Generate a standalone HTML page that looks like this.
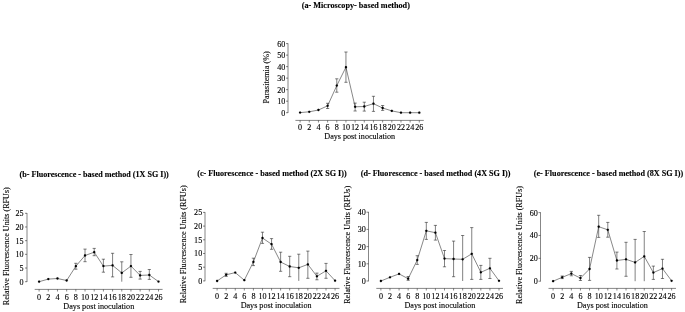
<!DOCTYPE html>
<html lang="en"><head><meta charset="utf-8"><title>Figure</title>
<style>
html,body{margin:0;padding:0;background:#fff;}
body{width:685px;height:312px;overflow:hidden;font-family:"Liberation Serif",serif;}
svg{display:block;}
svg text{font-family:"Liberation Serif",serif;}
</style></head><body>
<svg width="685" height="312" viewBox="0 0 685 312" font-family="'Liberation Serif', serif" fill="#000" stroke="#000" stroke-width="0.12">
<g id="chart-a"><path d="M288 43.3V113" stroke="#222" stroke-width="0.55" fill="none"/>
<text x="285.3" y="115.65" font-size="8.1" text-anchor="end">0</text>
<text x="285.3" y="104.13" font-size="8.1" text-anchor="end">10</text>
<text x="285.3" y="92.62" font-size="8.1" text-anchor="end">20</text>
<text x="285.3" y="81.1" font-size="8.1" text-anchor="end">30</text>
<text x="285.3" y="69.58" font-size="8.1" text-anchor="end">40</text>
<text x="285.3" y="58.07" font-size="8.1" text-anchor="end">50</text>
<text x="285.3" y="46.55" font-size="8.1" text-anchor="end">60</text>
<path d="M286 112.7H288M286 101.18H288M286 89.67H288M286 78.15H288M286 66.63H288M286 55.12H288M286 43.6H288" stroke="#222" stroke-width="0.55" fill="none"/>
<text x="300.1" y="129.9" font-size="8.1" text-anchor="middle">0</text>
<text x="309.27" y="129.9" font-size="8.1" text-anchor="middle">2</text>
<text x="318.44" y="129.9" font-size="8.1" text-anchor="middle">4</text>
<text x="327.61" y="129.9" font-size="8.1" text-anchor="middle">6</text>
<text x="336.78" y="129.9" font-size="8.1" text-anchor="middle">8</text>
<text x="345.95" y="129.9" font-size="8.1" text-anchor="middle">10</text>
<text x="355.12" y="129.9" font-size="8.1" text-anchor="middle">12</text>
<text x="364.29" y="129.9" font-size="8.1" text-anchor="middle">14</text>
<text x="373.46" y="129.9" font-size="8.1" text-anchor="middle">16</text>
<text x="382.63" y="129.9" font-size="8.1" text-anchor="middle">18</text>
<text x="391.8" y="129.9" font-size="8.1" text-anchor="middle">20</text>
<text x="400.97" y="129.9" font-size="8.1" text-anchor="middle">22</text>
<text x="410.14" y="129.9" font-size="8.1" text-anchor="middle">24</text>
<text x="419.31" y="129.9" font-size="8.1" text-anchor="middle">26</text>
<path d="M295.4 120.4H423.8M300.1 120.4v2.1M309.27 120.4v2.1M318.44 120.4v2.1M327.61 120.4v2.1M336.78 120.4v2.1M345.95 120.4v2.1M355.12 120.4v2.1M364.29 120.4v2.1M373.46 120.4v2.1M382.63 120.4v2.1M391.8 120.4v2.1M400.97 120.4v2.1M410.14 120.4v2.1M419.31 120.4v2.1" stroke="#222" stroke-width="0.55" fill="none"/>
<text x="359.71" y="138.9" font-size="8.15" text-anchor="middle">Days post inoculation</text>
<text transform="translate(268.9 77.4) rotate(-90)" font-size="8.15" text-anchor="middle">Parasitemia (%)</text>
<text x="301.8" y="7.7" font-size="8.1" font-weight="bold" textLength="108.1" lengthAdjust="spacingAndGlyphs">(a- Microscopy- based method)</text>
<path d="M326.01 103.3h3.2M327.61 103.3V108.5M326.01 108.5h3.2M335.18 78.8h3.2M336.78 78.8V92.2M335.18 92.2h3.2M344.35 52h3.2M345.95 52V82.3M344.35 82.3h3.2M353.52 103.1h3.2M355.12 103.1V111M353.52 111h3.2M362.69 102.2h3.2M364.29 102.2V111.1M362.69 111.1h3.2M371.86 96.3h3.2M373.46 96.3V111.4M371.86 111.4h3.2M381.03 105.5h3.2M382.63 105.5V110.4M381.03 110.4h3.2" stroke="#1a1a1a" stroke-width="0.55" fill="none"/>
<path d="M300.1 112.6L309.27 111.8L318.44 110L327.61 105.8L336.78 85.6L345.95 67.2L355.12 106.8L364.29 106.5L373.46 103.7L382.63 108L391.8 110.9L400.97 112.7L410.14 112.7L419.31 112.7" stroke="#111" stroke-width="0.5" fill="none"/>
<circle cx="300.1" cy="112.6" r="1.15"/>
<circle cx="309.27" cy="111.8" r="1.15"/>
<circle cx="318.44" cy="110" r="1.15"/>
<circle cx="327.61" cy="105.8" r="1.15"/>
<circle cx="336.78" cy="85.6" r="1.15"/>
<circle cx="345.95" cy="67.2" r="1.15"/>
<circle cx="355.12" cy="106.8" r="1.15"/>
<circle cx="364.29" cy="106.5" r="1.15"/>
<circle cx="373.46" cy="103.7" r="1.15"/>
<circle cx="382.63" cy="108" r="1.15"/>
<circle cx="391.8" cy="110.9" r="1.15"/>
<circle cx="400.97" cy="112.7" r="1.15"/>
<circle cx="410.14" cy="112.7" r="1.15"/>
<circle cx="419.31" cy="112.7" r="1.15"/></g>
<g id="chart-b"><path d="M27 213V282" stroke="#222" stroke-width="0.55" fill="none"/>
<text x="23.6" y="284.65" font-size="8.1" text-anchor="end">0</text>
<text x="23.6" y="270.97" font-size="8.1" text-anchor="end">5</text>
<text x="23.6" y="257.29" font-size="8.1" text-anchor="end">10</text>
<text x="23.6" y="243.61" font-size="8.1" text-anchor="end">15</text>
<text x="23.6" y="229.93" font-size="8.1" text-anchor="end">20</text>
<text x="23.6" y="216.25" font-size="8.1" text-anchor="end">25</text>
<path d="M25 281.7H27M25 268.02H27M25 254.34H27M25 240.66H27M25 226.98H27M25 213.3H27" stroke="#222" stroke-width="0.55" fill="none"/>
<text x="39.1" y="299.7" font-size="8.1" text-anchor="middle">0</text>
<text x="48.29" y="299.7" font-size="8.1" text-anchor="middle">2</text>
<text x="57.47" y="299.7" font-size="8.1" text-anchor="middle">4</text>
<text x="66.66" y="299.7" font-size="8.1" text-anchor="middle">6</text>
<text x="75.84" y="299.7" font-size="8.1" text-anchor="middle">8</text>
<text x="85.03" y="299.7" font-size="8.1" text-anchor="middle">10</text>
<text x="94.21" y="299.7" font-size="8.1" text-anchor="middle">12</text>
<text x="103.4" y="299.7" font-size="8.1" text-anchor="middle">14</text>
<text x="112.58" y="299.7" font-size="8.1" text-anchor="middle">16</text>
<text x="121.77" y="299.7" font-size="8.1" text-anchor="middle">18</text>
<text x="130.95" y="299.7" font-size="8.1" text-anchor="middle">20</text>
<text x="140.14" y="299.7" font-size="8.1" text-anchor="middle">22</text>
<text x="149.32" y="299.7" font-size="8.1" text-anchor="middle">24</text>
<text x="158.5" y="299.7" font-size="8.1" text-anchor="middle">26</text>
<path d="M34.7 289.4H162.6M39.1 289.4v2.1M48.29 289.4v2.1M57.47 289.4v2.1M66.66 289.4v2.1M75.84 289.4v2.1M85.03 289.4v2.1M94.21 289.4v2.1M103.4 289.4v2.1M112.58 289.4v2.1M121.77 289.4v2.1M130.95 289.4v2.1M140.14 289.4v2.1M149.32 289.4v2.1M158.5 289.4v2.1" stroke="#222" stroke-width="0.55" fill="none"/>
<text x="98.8" y="308.8" font-size="8.15" text-anchor="middle">Days post inoculation</text>
<text transform="translate(8.6 246.2) rotate(-90)" font-size="8.15" text-anchor="middle">Relative Fluorescence Units (RFUs)</text>
<text x="19.6" y="177" font-size="8.1" font-weight="bold" textLength="149.2" lengthAdjust="spacingAndGlyphs">(b- Fluorescence - based method (1X SG I))</text>
<path d="M74.24 263.3h3.2M75.84 263.3V269.2M74.24 269.2h3.2M83.43 249.1h3.2M85.03 249.1V261.7M83.43 261.7h3.2M92.61 248.4h3.2M94.21 248.4V255.7M92.61 255.7h3.2M101.8 259.2h3.2M103.4 259.2V272.2M101.8 272.2h3.2M110.98 253.3h3.2M112.58 253.3V276.9M110.98 276.9h3.2M120.17 261.8h3.2M121.77 261.8V281.7M129.35 254.5h3.2M130.95 254.5V277.3M129.35 277.3h3.2M138.54 271.4h3.2M140.14 271.4V279.1M138.54 279.1h3.2M147.72 269.5h3.2M149.32 269.5V279.4M147.72 279.4h3.2" stroke="#1a1a1a" stroke-width="0.55" fill="none"/>
<path d="M39.1 281.7L48.29 279.1L57.47 278.5L66.66 280.5L75.84 266.2L85.03 255.5L94.21 252.2L103.4 266.1L112.58 265.4L121.77 272.9L130.95 266.1L140.14 275.4L149.32 275L158.5 281.6" stroke="#111" stroke-width="0.5" fill="none"/>
<circle cx="39.1" cy="281.7" r="1.15"/>
<circle cx="48.29" cy="279.1" r="1.15"/>
<circle cx="57.47" cy="278.5" r="1.15"/>
<circle cx="66.66" cy="280.5" r="1.15"/>
<circle cx="75.84" cy="266.2" r="1.15"/>
<circle cx="85.03" cy="255.5" r="1.15"/>
<circle cx="94.21" cy="252.2" r="1.15"/>
<circle cx="103.4" cy="266.1" r="1.15"/>
<circle cx="112.58" cy="265.4" r="1.15"/>
<circle cx="121.77" cy="272.9" r="1.15"/>
<circle cx="130.95" cy="266.1" r="1.15"/>
<circle cx="140.14" cy="275.4" r="1.15"/>
<circle cx="149.32" cy="275" r="1.15"/>
<circle cx="158.5" cy="281.6" r="1.15"/></g>
<g id="chart-c"><path d="M205 212.1V281.2" stroke="#222" stroke-width="0.55" fill="none"/>
<text x="202.2" y="283.85" font-size="8.1" text-anchor="end">0</text>
<text x="202.2" y="270.15" font-size="8.1" text-anchor="end">5</text>
<text x="202.2" y="256.45" font-size="8.1" text-anchor="end">10</text>
<text x="202.2" y="242.75" font-size="8.1" text-anchor="end">15</text>
<text x="202.2" y="229.05" font-size="8.1" text-anchor="end">20</text>
<text x="202.2" y="215.35" font-size="8.1" text-anchor="end">25</text>
<path d="M203 280.9H205M203 267.2H205M203 253.5H205M203 239.8H205M203 226.1H205M203 212.4H205" stroke="#222" stroke-width="0.55" fill="none"/>
<text x="217.1" y="298.7" font-size="8.1" text-anchor="middle">0</text>
<text x="226.17" y="298.7" font-size="8.1" text-anchor="middle">2</text>
<text x="235.25" y="298.7" font-size="8.1" text-anchor="middle">4</text>
<text x="244.32" y="298.7" font-size="8.1" text-anchor="middle">6</text>
<text x="253.4" y="298.7" font-size="8.1" text-anchor="middle">8</text>
<text x="262.48" y="298.7" font-size="8.1" text-anchor="middle">10</text>
<text x="271.55" y="298.7" font-size="8.1" text-anchor="middle">12</text>
<text x="280.62" y="298.7" font-size="8.1" text-anchor="middle">14</text>
<text x="289.7" y="298.7" font-size="8.1" text-anchor="middle">16</text>
<text x="298.77" y="298.7" font-size="8.1" text-anchor="middle">18</text>
<text x="307.85" y="298.7" font-size="8.1" text-anchor="middle">20</text>
<text x="316.92" y="298.7" font-size="8.1" text-anchor="middle">22</text>
<text x="326" y="298.7" font-size="8.1" text-anchor="middle">24</text>
<text x="335.07" y="298.7" font-size="8.1" text-anchor="middle">26</text>
<path d="M212.7 288.4H339.5M217.1 288.4v2.1M226.17 288.4v2.1M235.25 288.4v2.1M244.32 288.4v2.1M253.4 288.4v2.1M262.48 288.4v2.1M271.55 288.4v2.1M280.62 288.4v2.1M289.7 288.4v2.1M298.77 288.4v2.1M307.85 288.4v2.1M316.92 288.4v2.1M326 288.4v2.1M335.07 288.4v2.1" stroke="#222" stroke-width="0.55" fill="none"/>
<text x="276.09" y="307.8" font-size="8.15" text-anchor="middle">Days post inoculation</text>
<text transform="translate(185.9 244.3) rotate(-90)" font-size="8.15" text-anchor="middle">Relative Fluorescence Units (RFUs)</text>
<text x="197.2" y="176.2" font-size="8.1" font-weight="bold" textLength="149.5" lengthAdjust="spacingAndGlyphs">(c- Fluorescence - based method (2X SG I))</text>
<path d="M224.57 273.3h3.2M226.17 273.3V276.4M224.57 276.4h3.2M251.8 258.2h3.2M253.4 258.2V265.6M251.8 265.6h3.2M260.88 232.2h3.2M262.48 232.2V243.4M260.88 243.4h3.2M269.95 238.6h3.2M271.55 238.6V249.3M269.95 249.3h3.2M279.02 252.2h3.2M280.62 252.2V271.3M279.02 271.3h3.2M288.1 256.3h3.2M289.7 256.3V276.7M288.1 276.7h3.2M297.17 254.2h3.2M298.77 254.2V280.9M306.25 251.1h3.2M307.85 251.1V278.3M306.25 278.3h3.2M315.32 273.1h3.2M316.92 273.1V279.8M315.32 279.8h3.2M324.4 263.4h3.2M326 263.4V278.3M324.4 278.3h3.2" stroke="#1a1a1a" stroke-width="0.55" fill="none"/>
<path d="M217.1 281L226.17 274.8L235.25 272.6L244.32 280.2L253.4 261.9L262.48 238L271.55 244.2L280.62 262L289.7 266.5L298.77 267.8L307.85 264.4L316.92 276.3L326 270.8L335.07 280.7" stroke="#111" stroke-width="0.5" fill="none"/>
<circle cx="217.1" cy="281" r="1.15"/>
<circle cx="226.17" cy="274.8" r="1.15"/>
<circle cx="235.25" cy="272.6" r="1.15"/>
<circle cx="244.32" cy="280.2" r="1.15"/>
<circle cx="253.4" cy="261.9" r="1.15"/>
<circle cx="262.48" cy="238" r="1.15"/>
<circle cx="271.55" cy="244.2" r="1.15"/>
<circle cx="280.62" cy="262" r="1.15"/>
<circle cx="289.7" cy="266.5" r="1.15"/>
<circle cx="298.77" cy="267.8" r="1.15"/>
<circle cx="307.85" cy="264.4" r="1.15"/>
<circle cx="316.92" cy="276.3" r="1.15"/>
<circle cx="326" cy="270.8" r="1.15"/>
<circle cx="335.07" cy="280.7" r="1.15"/></g>
<g id="chart-d"><path d="M368.5 211.9V281.3" stroke="#222" stroke-width="0.55" fill="none"/>
<text x="365.9" y="283.95" font-size="8.1" text-anchor="end">0</text>
<text x="365.9" y="266.75" font-size="8.1" text-anchor="end">10</text>
<text x="365.9" y="249.55" font-size="8.1" text-anchor="end">20</text>
<text x="365.9" y="232.35" font-size="8.1" text-anchor="end">30</text>
<text x="365.9" y="215.15" font-size="8.1" text-anchor="end">40</text>
<path d="M366.5 281H368.5M366.5 263.8H368.5M366.5 246.6H368.5M366.5 229.4H368.5M366.5 212.2H368.5" stroke="#222" stroke-width="0.55" fill="none"/>
<text x="380.9" y="298.7" font-size="8.1" text-anchor="middle">0</text>
<text x="389.98" y="298.7" font-size="8.1" text-anchor="middle">2</text>
<text x="399.07" y="298.7" font-size="8.1" text-anchor="middle">4</text>
<text x="408.15" y="298.7" font-size="8.1" text-anchor="middle">6</text>
<text x="417.24" y="298.7" font-size="8.1" text-anchor="middle">8</text>
<text x="426.32" y="298.7" font-size="8.1" text-anchor="middle">10</text>
<text x="435.41" y="298.7" font-size="8.1" text-anchor="middle">12</text>
<text x="444.5" y="298.7" font-size="8.1" text-anchor="middle">14</text>
<text x="453.58" y="298.7" font-size="8.1" text-anchor="middle">16</text>
<text x="462.66" y="298.7" font-size="8.1" text-anchor="middle">18</text>
<text x="471.75" y="298.7" font-size="8.1" text-anchor="middle">20</text>
<text x="480.83" y="298.7" font-size="8.1" text-anchor="middle">22</text>
<text x="489.92" y="298.7" font-size="8.1" text-anchor="middle">24</text>
<text x="499" y="298.7" font-size="8.1" text-anchor="middle">26</text>
<path d="M376.3 288.4H503M380.9 288.4v2.1M389.98 288.4v2.1M399.07 288.4v2.1M408.15 288.4v2.1M417.24 288.4v2.1M426.32 288.4v2.1M435.41 288.4v2.1M444.5 288.4v2.1M453.58 288.4v2.1M462.66 288.4v2.1M471.75 288.4v2.1M480.83 288.4v2.1M489.92 288.4v2.1M499 288.4v2.1" stroke="#222" stroke-width="0.55" fill="none"/>
<text x="439.95" y="307.8" font-size="8.15" text-anchor="middle">Days post inoculation</text>
<text transform="translate(349.9 244.8) rotate(-90)" font-size="8.15" text-anchor="middle">Relative Fluorescence Units (RFUs)</text>
<text x="360.7" y="176.2" font-size="8.1" font-weight="bold" textLength="149.8" lengthAdjust="spacingAndGlyphs">(d- Fluorescence - based method (4X SG I))</text>
<path d="M406.55 276.5h3.2M408.15 276.5V280.3M406.55 280.3h3.2M415.64 255.7h3.2M417.24 255.7V264.4M415.64 264.4h3.2M424.72 222.4h3.2M426.32 222.4V239.4M424.72 239.4h3.2M433.81 225.4h3.2M435.41 225.4V240.1M433.81 240.1h3.2M442.89 250.5h3.2M444.5 250.5V266.8M442.89 266.8h3.2M451.98 241.1h3.2M453.58 241.1V276.7M451.98 276.7h3.2M461.06 235.5h3.2M462.66 235.5V281M470.15 227.6h3.2M471.75 227.6V279.4M470.15 279.4h3.2M479.23 265.4h3.2M480.83 265.4V279.4M479.23 279.4h3.2M488.32 258.3h3.2M489.92 258.3V278.5M488.32 278.5h3.2" stroke="#1a1a1a" stroke-width="0.55" fill="none"/>
<path d="M380.9 281L389.98 277.3L399.07 273.9L408.15 278.7L417.24 260.1L426.32 230.8L435.41 232.7L444.5 258.6L453.58 259L462.66 259.3L471.75 253.8L480.83 272.3L489.92 268.3L499 280.8" stroke="#111" stroke-width="0.5" fill="none"/>
<circle cx="380.9" cy="281" r="1.15"/>
<circle cx="389.98" cy="277.3" r="1.15"/>
<circle cx="399.07" cy="273.9" r="1.15"/>
<circle cx="408.15" cy="278.7" r="1.15"/>
<circle cx="417.24" cy="260.1" r="1.15"/>
<circle cx="426.32" cy="230.8" r="1.15"/>
<circle cx="435.41" cy="232.7" r="1.15"/>
<circle cx="444.5" cy="258.6" r="1.15"/>
<circle cx="453.58" cy="259" r="1.15"/>
<circle cx="462.66" cy="259.3" r="1.15"/>
<circle cx="471.75" cy="253.8" r="1.15"/>
<circle cx="480.83" cy="272.3" r="1.15"/>
<circle cx="489.92" cy="268.3" r="1.15"/>
<circle cx="499" cy="280.8" r="1.15"/></g>
<g id="chart-e"><path d="M540.5 212.3V281.5" stroke="#222" stroke-width="0.55" fill="none"/>
<text x="537.9" y="284.15" font-size="8.1" text-anchor="end">0</text>
<text x="537.9" y="261.28" font-size="8.1" text-anchor="end">20</text>
<text x="537.9" y="238.42" font-size="8.1" text-anchor="end">40</text>
<text x="537.9" y="215.55" font-size="8.1" text-anchor="end">60</text>
<path d="M538.5 281.2H540.5M538.5 258.33H540.5M538.5 235.47H540.5M538.5 212.6H540.5" stroke="#222" stroke-width="0.55" fill="none"/>
<text x="553.1" y="298.7" font-size="8.1" text-anchor="middle">0</text>
<text x="562.22" y="298.7" font-size="8.1" text-anchor="middle">2</text>
<text x="571.33" y="298.7" font-size="8.1" text-anchor="middle">4</text>
<text x="580.45" y="298.7" font-size="8.1" text-anchor="middle">6</text>
<text x="589.56" y="298.7" font-size="8.1" text-anchor="middle">8</text>
<text x="598.68" y="298.7" font-size="8.1" text-anchor="middle">10</text>
<text x="607.79" y="298.7" font-size="8.1" text-anchor="middle">12</text>
<text x="616.9" y="298.7" font-size="8.1" text-anchor="middle">14</text>
<text x="626.02" y="298.7" font-size="8.1" text-anchor="middle">16</text>
<text x="635.13" y="298.7" font-size="8.1" text-anchor="middle">18</text>
<text x="644.25" y="298.7" font-size="8.1" text-anchor="middle">20</text>
<text x="653.37" y="298.7" font-size="8.1" text-anchor="middle">22</text>
<text x="662.48" y="298.7" font-size="8.1" text-anchor="middle">24</text>
<text x="671.6" y="298.7" font-size="8.1" text-anchor="middle">26</text>
<path d="M548.5 288.4H676M553.1 288.4v2.1M562.22 288.4v2.1M571.33 288.4v2.1M580.45 288.4v2.1M589.56 288.4v2.1M598.68 288.4v2.1M607.79 288.4v2.1M616.9 288.4v2.1M626.02 288.4v2.1M635.13 288.4v2.1M644.25 288.4v2.1M653.37 288.4v2.1M662.48 288.4v2.1M671.6 288.4v2.1" stroke="#222" stroke-width="0.55" fill="none"/>
<text x="612.35" y="307.8" font-size="8.15" text-anchor="middle">Days post inoculation</text>
<text transform="translate(522.2 245) rotate(-90)" font-size="8.15" text-anchor="middle">Relative Fluorescence Units (RFUs)</text>
<text x="533.8" y="176.2" font-size="8.1" font-weight="bold" textLength="149.4" lengthAdjust="spacingAndGlyphs">(e- Fluorescence - based method (8X SG I))</text>
<path d="M560.62 276h3.2M562.22 276V278.6M560.62 278.6h3.2M569.73 271.4h3.2M571.33 271.4V275.8M569.73 275.8h3.2M578.85 275.5h3.2M580.45 275.5V280.5M578.85 280.5h3.2M587.96 257.4h3.2M589.56 257.4V280.4M587.96 280.4h3.2M597.08 215.3h3.2M598.68 215.3V237.4M597.08 237.4h3.2M606.19 222.4h3.2M607.79 222.4V237.2M606.19 237.2h3.2M615.3 252.1h3.2M616.9 252.1V269M615.3 269h3.2M624.42 242.3h3.2M626.02 242.3V276.3M624.42 276.3h3.2M633.53 239.4h3.2M635.13 239.4V281.2M642.65 231.5h3.2M644.25 231.5V281.2M651.76 266.1h3.2M653.37 266.1V279.4M651.76 279.4h3.2M660.88 259.3h3.2M662.48 259.3V278.5M660.88 278.5h3.2" stroke="#1a1a1a" stroke-width="0.55" fill="none"/>
<path d="M553.1 281.2L562.22 277.3L571.33 273.6L580.45 278.1L589.56 269L598.68 226.7L607.79 229.8L616.9 260.5L626.02 259.3L635.13 262.4L644.25 256.4L653.37 272.6L662.48 268.6L671.6 280.8" stroke="#111" stroke-width="0.5" fill="none"/>
<circle cx="553.1" cy="281.2" r="1.15"/>
<circle cx="562.22" cy="277.3" r="1.15"/>
<circle cx="571.33" cy="273.6" r="1.15"/>
<circle cx="580.45" cy="278.1" r="1.15"/>
<circle cx="589.56" cy="269" r="1.15"/>
<circle cx="598.68" cy="226.7" r="1.15"/>
<circle cx="607.79" cy="229.8" r="1.15"/>
<circle cx="616.9" cy="260.5" r="1.15"/>
<circle cx="626.02" cy="259.3" r="1.15"/>
<circle cx="635.13" cy="262.4" r="1.15"/>
<circle cx="644.25" cy="256.4" r="1.15"/>
<circle cx="653.37" cy="272.6" r="1.15"/>
<circle cx="662.48" cy="268.6" r="1.15"/>
<circle cx="671.6" cy="280.8" r="1.15"/></g>
</svg>
</body></html>
